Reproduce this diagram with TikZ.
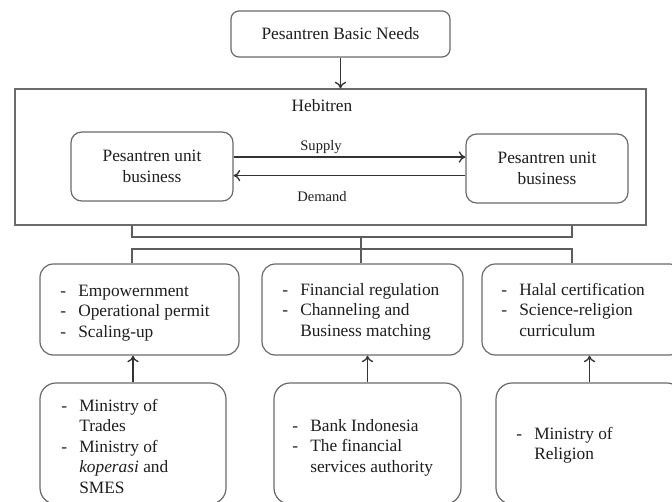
\documentclass[tikz,border=0pt]{standalone}
\usepackage{fontspec}
\setmainfont{Liberation Serif}
\usetikzlibrary{arrows.meta}
\definecolor{boxc}{HTML}{6A6A6A}
\definecolor{linec}{HTML}{333333}
\definecolor{txtc}{HTML}{1E1E1E}
\newcommand{\mainsz}{\fontsize{13}{15.4}\selectfont}
\newcommand{\lblsz}{\fontsize{10.9}{13}\selectfont}
\newcommand{\itm}[1]{\makebox[13.5pt][l]{-}#1}
\newcommand{\cnt}[1]{\hspace*{13.5pt}#1}
\begin{document}
\begin{tikzpicture}[x=0.75pt,y=-0.75pt,
  box/.style n args={3}{draw=boxc, line width=0.9pt, rounded corners=#3,
    minimum width=#1*0.75pt, minimum height=#2*0.75pt, inner sep=0pt,
    align=center, text=txtc, font=\mainsz},
  lst/.style={anchor=base west, inner sep=0pt, font=\mainsz, text=txtc},
  lbl/.style={anchor=base, inner sep=0pt, font=\lblsz, text=txtc},
  arr/.style={draw=linec, line width=1pt, -{To[length=5pt,width=8.5pt]}},
  conn/.style={draw=linec!80!white, line width=1pt}]
\useasboundingbox (0,0) rectangle (672,501);
\clip (0,0) rectangle (672,501);
\fill[white] (0,0) rectangle (672,501);

% boxes
\node[box={219}{46}{6pt}] (top) at (340.5,34) {Pesantren Basic Needs};
\node[draw=boxc, line width=0.9pt, minimum width=631*0.75pt, minimum height=136*0.75pt, inner sep=0pt] (heb) at (330.5,157) {};
\node[lbl, font=\mainsz] (hebt) at (322,111) {Hebitren};
\node[box={162}{69}{8pt}] (inL) at (152,166.5) {Pesantren unit\\business};
\node[box={162}{69}{8pt}] (inR) at (547,168.5) {Pesantren unit\\business};

\node[box={199}{91}{10pt}] (up1) at (139.5,309.5) {};
\node[box={201}{91}{10pt}] (up2) at (362.5,309.5) {};
\node[box={201}{91}{10pt}] (up3) at (582.5,309.5) {};
\node[box={186}{121}{12pt}] (lo1) at (133,443.5) {};
\node[box={187}{121}{12pt}] (lo2) at (367.5,443.5) {};
\node[box={187}{121}{12pt}] (lo3) at (589.5,443.5) {};

% list texts
\node[lst] (t1) at (60,296) {\begin{tabular}[t]{@{}l@{}}\itm{Empowernment}\\ \itm{Operational permit}\\ \itm{Scaling-up}\end{tabular}};
\node[lst] (t2) at (282,295) {\begin{tabular}[t]{@{}l@{}}\itm{Financial regulation}\\ \itm{Channeling and}\\ \cnt{Business matching}\end{tabular}};
\node[lst] (t3) at (501,295) {\begin{tabular}[t]{@{}l@{}}\itm{Halal certification}\\ \itm{Science-religion}\\ \cnt{curriculum}\end{tabular}};
\node[lst] (t4) at (61,411) {\begin{tabular}[t]{@{}l@{}}\itm{Ministry of}\\ \cnt{Trades}\\ \itm{Ministry of}\\ \cnt{\textit{koperasi} and}\\ \cnt{SMES}\end{tabular}};
\node[lst] (t5) at (292,431) {\begin{tabular}[t]{@{}l@{}}\itm{Bank Indonesia}\\ \itm{The financial}\\ \cnt{services authority}\end{tabular}};
\node[lst] (t6) at (516,439) {\begin{tabular}[t]{@{}l@{}}\itm{Ministry of}\\ \cnt{Religion}\end{tabular}};

% labels
\node[lbl] (sup) at (321,150) {Supply};
\node[lbl] (dem) at (322,201) {Demand};

% arrows
\draw[arr] (top.south) -- (top.south |- heb.north);
\draw[arr] ([yshift=7.1pt]inL.east) -- ([yshift=7.1pt]inL.east -| inR.west);
\draw[arr] ([yshift=-6.8pt]inL.east -| inR.west) -- ([yshift=-6.8pt]inL.east);
\draw[arr] (lo1.north) -- (lo1.north |- up1.south);
\draw[arr] (lo2.north) -- (lo2.north |- up2.south);
\draw[arr] (lo3.north) -- (lo3.north |- up3.south);

% bracket connectors
\coordinate (bL) at (132,237);
\coordinate (bR) at (572,237);
\coordinate (bM) at (361,237);
\coordinate (hL) at (132,249);
\coordinate (hR) at (572,249);
\draw[conn] (bL |- heb.south) -- (bL) -- (bR) -- (bR |- heb.south);
\draw[conn] (bM) -- (bM |- up2.north);
\draw[conn] (hL |- up1.north) -- (hL) -- (hR) -- (hR |- up3.north);
\end{tikzpicture}
\end{document}
